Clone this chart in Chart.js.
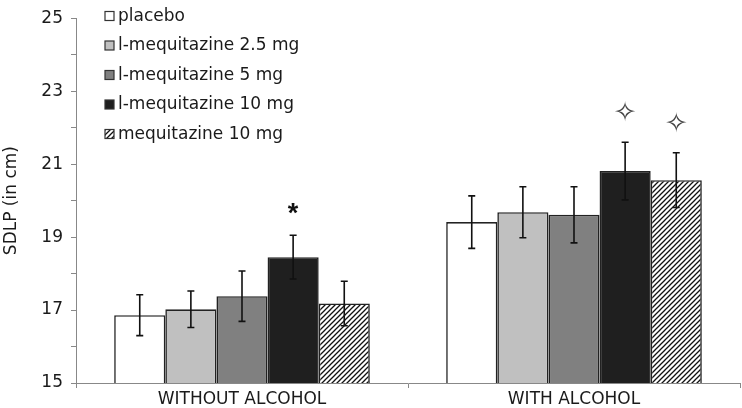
<!DOCTYPE html>
<html>
<head>
<meta charset="utf-8">
<script src="https://cdn.jsdelivr.net/npm/chart.js@4.4.1/dist/chart.umd.min.js"></script>
<style>
  html, body { margin: 0; padding: 0; background: #fff; }
  #wrap { width: 742px; height: 408px; position: relative; }
</style>
</head>
<body>
<div id="wrap"><canvas id="c" width="742" height="408"></canvas></div>
<script>
// ---- data ----
const categories = ['WITHOUT ALCOHOL', 'WITH ALCOHOL'];
const seriesNames = ['placebo', 'l-mequitazine 2.5 mg', 'l-mequitazine 5 mg', 'l-mequitazine 10 mg', 'mequitazine 10 mg'];
const placebo = [16.86, 19.41];
const placeboErr = [0.56, 0.72];
const lmeq25 = [17.02, 19.68];
const lmeq25Err = [0.50, 0.70];
const lmeq5 = [17.38, 19.61];
const lmeq5Err = [0.69, 0.77];
const lmeq10 = [18.45, 20.81];
const lmeq10Err = [0.60, 0.79];
const meq10 = [17.18, 20.56];
const meq10Err = [0.61, 0.75];
const lmeq10Marks = ['*', '\u2727'];
const meq10Marks = ['', '\u2727'];
const yTickLabels = [15, 17, 19, 21, 23, 25];

const FONT = '"DejaVu Sans", sans-serif';

function hatch() {
  const c = document.createElement('canvas');
  c.width = 5; c.height = 5;
  const x = c.getContext('2d');
  x.fillStyle = '#fff'; x.fillRect(0, 0, 5, 5);
  x.strokeStyle = '#111'; x.lineWidth = 1.3;
  x.beginPath();
  x.moveTo(-1, 6); x.lineTo(6, -1);
  x.moveTo(-1, 1); x.lineTo(1, -1);
  x.moveTo(4, 6); x.lineTo(6, 4);
  x.stroke();
  return x.createPattern(c, 'repeat');
}
const ctx = document.getElementById('c').getContext('2d');
const hatchPattern = hatch();

const fills = ['#ffffff', '#c0c0c0', '#808080', '#1f1f1f', hatchPattern];
const values = [placebo, lmeq25, lmeq5, lmeq10, meq10];
const errs = [placeboErr, lmeq25Err, lmeq5Err, lmeq10Err, meq10Err];
const marks = [null, null, null, lmeq10Marks, meq10Marks];

const datasets = seriesNames.map((n, i) => ({
  label: n,
  data: values[i],
  errors: errs[i],
  marks: marks[i],
  backgroundColor: fills[i],
  borderColor: '#222',
  borderWidth: 1.6,
  borderSkipped: 'start',
  categoryPercentage: 0.77,
  barPercentage: 1.0
}));

const errorBars = {
  id: 'errorBars',
  afterDatasetsDraw(chart) {
    const c = chart.ctx, ys = chart.scales.y;
    chart.data.datasets.forEach((ds, di) => {
      const meta = chart.getDatasetMeta(di);
      meta.data.forEach((el, i) => {
        const v = ds.data[i], e = ds.errors[i];
        const x = el.x;
        const yt = ys.getPixelForValue(v + e), yb = ys.getPixelForValue(v - e);
        c.save();
        c.strokeStyle = '#111'; c.lineWidth = 1.6;
        c.beginPath();
        c.moveTo(x, yt); c.lineTo(x, yb);
        c.moveTo(x - 3.5, yt); c.lineTo(x + 3.5, yt);
        c.moveTo(x - 3.5, yb); c.lineTo(x + 3.5, yb);
        c.stroke();
        if (ds.marks && ds.marks[i]) {
          const m = ds.marks[i];
          c.textAlign = 'center'; c.textBaseline = 'middle';
          if (m === '*') {
            c.fillStyle = '#111';
            c.font = 'bold 27px "Liberation Sans", sans-serif';
            c.fillText(m, x, yt - 21);
          } else {
            c.fillStyle = '#444';
            c.font = '27px ' + FONT;
            c.fillText(m, x, yt - 28);
          }
        }
        c.restore();
      });
    });
  }
};

const insideLegend = {
  id: 'insideLegend',
  afterDraw(chart) {
    const c = chart.ctx;
    chart.data.datasets.forEach((ds, i) => {
      const y = 16 + i * 29.5;
      c.save();
      c.fillStyle = ds.backgroundColor;
      c.fillRect(105, y - 4.5, 9, 9);
      c.strokeStyle = '#333'; c.lineWidth = 1.2;
      c.strokeRect(105, y - 4.5, 9, 9);
      c.fillStyle = '#1a1a1a';
      c.font = '17px ' + FONT;
      c.textAlign = 'left'; c.textBaseline = 'middle';
      c.fillText(ds.label, 118, y + 0.5);
      c.restore();
    });
  }
};

new Chart(ctx, {
  type: 'bar',
  data: { labels: categories, datasets },
  options: {
    responsive: false,
    animation: false,
    devicePixelRatio: 1,
    layout: { padding: { top: 8, right: 2, left: 0, bottom: 0 } },
    plugins: { legend: { display: false }, tooltip: { enabled: false } },
    scales: {
      x: {
        offset: true,
        grid: { display: true, drawOnChartArea: false, offset: true, tickLength: 5, color: '#888', lineWidth: 1 },
        border: { display: true, color: '#888', width: 1 },
        ticks: { color: '#1a1a1a', font: { family: FONT, size: 17 }, padding: 1 },
        afterFit(s) { s.height = 25; }
      },
      y: {
        min: 15, max: 25,
        grid: { display: true, drawOnChartArea: false, tickLength: 5, color: '#888', lineWidth: 1 },
        border: { display: true, color: '#888', width: 1 },
        ticks: {
          stepSize: 1,
          padding: 8,
          color: '#1a1a1a',
          font: { family: FONT, size: 17 },
          callback: v => yTickLabels.includes(v) ? String(v) : ''
        },
        title: { display: true, text: 'SDLP (in cm)', color: '#1a1a1a', font: { family: FONT, size: 17 }, padding: { top: 1, bottom: 0 } },
        afterFit(s) { s.width = 76; }
      }
    }
  },
  plugins: [errorBars, insideLegend]
});
</script>
</body>
</html>
